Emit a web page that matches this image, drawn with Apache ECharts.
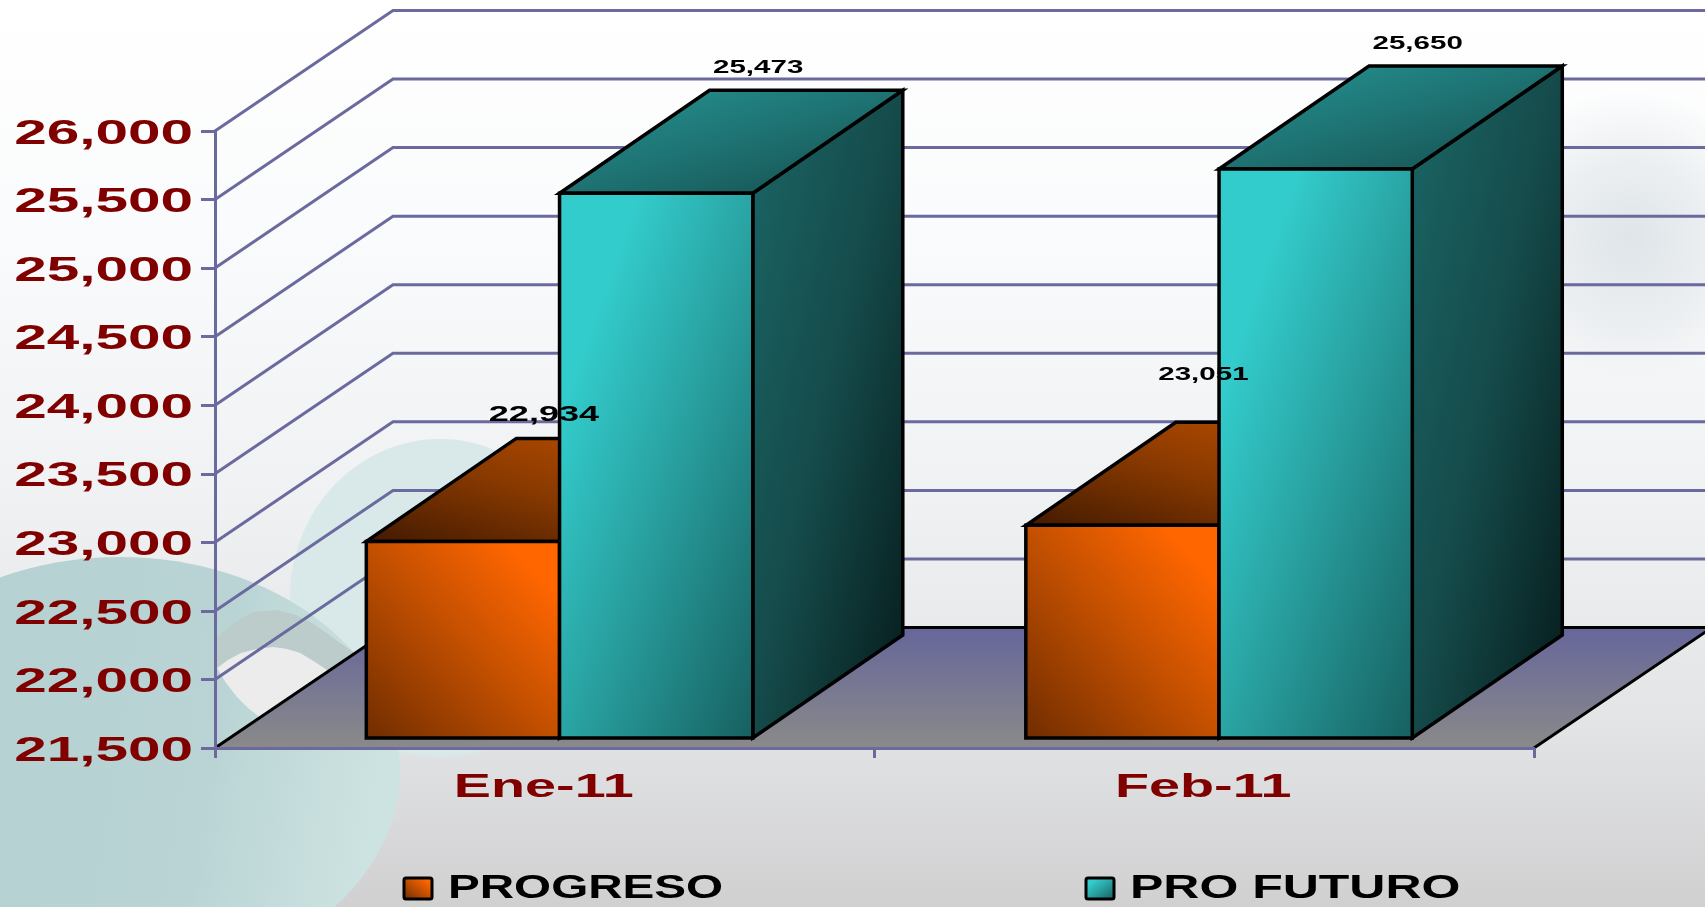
<!DOCTYPE html>
<html>
<head>
<meta charset="utf-8">
<title>Progreso / Pro Futuro</title>
<script src="https://cdn.jsdelivr.net/npm/echarts@6/dist/echarts.min.js"></script>
<style>
  html, body { margin: 0; padding: 0; width: 100%; height: 100%; overflow: hidden; background: #fff; }
  #chart { width: 1705px; height: 907px; }
</style>
</head>
<body>
<div id="chart"></div>
<script>
const categories = ['Ene-11', 'Feb-11'];
const seriesNames = ['PROGRESO', 'PRO FUTURO'];
const progreso = [22934, 23051];
const proFuturo = [25473, 25650];
const yTicks = [26000, 25500, 25000, 24500, 24000, 23500, 23000, 22500, 22000, 21500];

const Y_MIN = 21500;
const Y_MAX = 26000;

const FONT = '"Liberation Sans", Arial, sans-serif';
const AXIS_COLOR = '#6a6a9e';
const LABEL_COLOR = '#800000';

// depth of the floor / back wall, and where the bars sit in it
const WALL_DX = 178;
const WALL_DY = 120.5;
const BAR_FRONT_DX = 14.8;
const BAR_FRONT_DY = 10;
const BAR_DX = 150;
const BAR_DY = 103;
const BAR_WIDTH = 0.293;

// the value labels of the original are not placed evenly
const labelShiftX = [81, 102];
const labelRise = [[126, 150], [125, 125]];
const labelSize = [[22, 18], [18, 18]];

const chart = echarts.init(document.getElementById('chart'));

// gradient with its colour bands parallel to the box diagonal, like the original bars
function diagFill(x, y, w, h, fromRight, stops) {
  const t = 2 * w * h / (w * w + h * h);
  const x0 = fromRight ? x + w : x;
  const x1 = fromRight ? x0 - h * t : x0 + h * t;
  return new echarts.graphic.LinearGradient(x0, y, x1, y + w * t, stops, true);
}

const orangeFront = [[0, '#ff6600'], [0.14, '#ff6600'], [0.5, '#c45000'], [1, '#702d00']];
const orangeTop = [[0, '#c05000'], [0.5, '#8a3a00'], [1, '#421a00']];
const tealFront = [[0, '#33cccc'], [0.2, '#33cccc'], [0.5, '#2aa5a5'], [1, '#176060']];
const tealTop = [[0, '#269595'], [0.5, '#1e7272'], [1, '#164b4b']];
const tealSide = [[0, '#1b6666'], [0.5, '#154a4a'], [1, '#061a1a']];

function stretchedText(x, y, text, size, color, align, scale) {
  return {
    type: 'text',
    x: x,
    y: y,
    scaleX: scale,
    style: {
      text: text,
      fontFamily: FONT,
      fontWeight: 'bold',
      fontSize: size,
      fill: color,
      align: align,
      verticalAlign: 'middle'
    }
  };
}

function poly(points, fill) {
  return {
    type: 'polygon',
    shape: { points: points },
    style: { fill: fill, stroke: '#000', lineWidth: 3.5, lineJoin: 'miter' }
  };
}

function renderWall(params, api) {
  const v = api.value(1);
  const p = api.coord([0, v]);
  const sys = params.coordSys;
  if (v === Y_MIN) {
    const left = sys.x, right = sys.x + sys.width;
    const backY = p[1] - WALL_DY;
    return {
      type: 'group',
      children: [
        {
          type: 'polygon',
          shape: { points: [[left, p[1]], [left + WALL_DX, backY], [right + WALL_DX, backY], [right, p[1]]] },
          style: {
            fill: new echarts.graphic.LinearGradient(0, 0, 0, 1, [
              { offset: 0, color: '#66669b' },
              { offset: 1, color: '#8a8a8a' }
            ])
          }
        },
        {
          type: 'polyline',
          shape: { points: [[left, p[1]], [left + WALL_DX, backY], [right + WALL_DX, backY], [right, p[1]]] },
          style: { fill: 'none', stroke: '#000', lineWidth: 3 }
        }
      ]
    };
  }
  return {
    type: 'polyline',
    shape: { points: [[sys.x, p[1]], [sys.x + WALL_DX, p[1] - WALL_DY], [sys.x + sys.width + WALL_DX, p[1] - WALL_DY]] },
    style: { fill: 'none', stroke: AXIS_COLOR, lineWidth: 3 }
  };
}

function makeBarRender(k) {
  return function (params, api) {
    const i = api.value(0);
    const base = api.coord([i, Y_MIN]);
    const top = api.coord([i, api.value(1)]);
    const w = api.size([1, 0])[0] * BAR_WIDTH;
    const x0 = base[0] + BAR_FRONT_DX + (k - 1) * w;
    const x1 = x0 + w;
    const y0 = top[1] - BAR_FRONT_DY;
    const y1 = base[1] - BAR_FRONT_DY;
    const h = y1 - y0;
    const frontFill = k === 0
      ? diagFill(x0, y0, w, h, true, orangeFront.map(s => ({ offset: s[0], color: s[1] })))
      : diagFill(x0, y0, w, h, false, tealFront.map(s => ({ offset: s[0], color: s[1] })));
    const topFill = k === 0
      ? diagFill(x0, y0 - BAR_DY, w + BAR_DX, BAR_DY, true, orangeTop.map(s => ({ offset: s[0], color: s[1] })))
      : diagFill(x0, y0 - BAR_DY, w + BAR_DX, BAR_DY, false, tealTop.map(s => ({ offset: s[0], color: s[1] })));
    const sideFill = diagFill(x1, y0 - BAR_DY, BAR_DX, h + BAR_DY, false, tealSide.map(s => ({ offset: s[0], color: s[1] })));
    return {
      type: 'group',
      children: [
        poly([[x1, y0], [x1 + BAR_DX, y0 - BAR_DY], [x1 + BAR_DX, y1 - BAR_DY], [x1, y1]], sideFill),
        poly([[x0, y0], [x0 + BAR_DX, y0 - BAR_DY], [x1 + BAR_DX, y0 - BAR_DY], [x1, y0]], topFill),
        poly([[x0, y0], [x1, y0], [x1, y1], [x0, y1]], frontFill)
      ]
    };
  };
}

function makeValueLabelRender(k) {
  return function (params, api) {
    const i = api.value(0);
    const v = api.value(1);
    const base = api.coord([i, Y_MIN]);
    const top = api.coord([i, v]);
    const w = api.size([1, 0])[0] * BAR_WIDTH;
    const cx = base[0] + BAR_FRONT_DX + (k - 0.5) * w + labelShiftX[k];
    const cy = top[1] - BAR_FRONT_DY - labelRise[k][i];
    return stretchedText(cx, cy, v.toLocaleString('en-US'), labelSize[k][i], '#000', 'center', 1.64);
  };
}

function renderYLabel(params, api) {
  const v = api.value(1);
  const p = api.coord([0, v]);
  return stretchedText(params.coordSys.x - 22, p[1] + 3, v.toLocaleString('en-US'), 35, LABEL_COLOR, 'right', 1.67);
}

function renderXLabel(params, api) {
  const p = api.coord([api.value(0), Y_MIN]);
  return stretchedText(p[0] - 1, p[1] + 40, categories[api.value(0)], 34, LABEL_COLOR, 'center', 1.64);
}

function swatch(x, stops, fromRight) {
  return {
    type: 'rect',
    z: 10,
    shape: { x: x, y: 878, width: 28, height: 21, r: 2 },
    style: {
      fill: diagFill(x, 878, 28, 21, fromRight, stops.map(s => ({ offset: s[0], color: s[1] }))),
      stroke: '#000',
      lineWidth: 3
    }
  };
}

function legendText(x, text, scale) {
  const el = stretchedText(x, 889, text, 34, '#000', 'left', scale);
  el.z = 10;
  return el;
}

const background = [
  {
    type: 'rect', z: -10,
    shape: { x: 0, y: 0, width: 1705, height: 907 },
    style: {
      fill: new echarts.graphic.LinearGradient(0, 0, 0, 1, [
        { offset: 0, color: '#ffffff' },
        { offset: 0.25, color: '#fafbfc' },
        { offset: 0.55, color: '#f0f1f3' },
        { offset: 0.8, color: '#e3e4e6' },
        { offset: 1, color: '#d0d0d1' }
      ])
    }
  },
  {
    type: 'ellipse', z: -9,
    shape: { cx: 1630, cy: 235, rx: 170, ry: 145 },
    style: {
      fill: new echarts.graphic.RadialGradient(0.5, 0.5, 0.5, [
        { offset: 0, color: 'rgba(205,214,220,0.6)' },
        { offset: 0.5, color: 'rgba(205,214,220,0.35)' },
        { offset: 1, color: 'rgba(205,214,220,0)' }
      ])
    }
  },
  {
    type: 'ellipse', z: -8,
    shape: { cx: 440, cy: 598, rx: 150, ry: 159 },
    style: { fill: '#d9e9e9' }
  },
  {
    type: 'ellipse', z: -7,
    shape: { cx: 120, cy: 770, rx: 280, ry: 213 },
    style: {
      fill: new echarts.graphic.LinearGradient(0, 0, 1, 0.2, [
        { offset: 0, color: '#b2cfd0' },
        { offset: 0.7, color: '#bad4d5' },
        { offset: 1, color: '#cde3e1' }
      ])
    }
  },
  {
    type: 'polygon', z: -6,
    shape: { points: [[217, 637], [235, 622], [253, 612], [277, 610], [296, 615], [312, 623], [328, 634], [340, 643], [358, 655], [330, 672], [315, 662], [300, 653], [287, 649], [273, 647], [257, 649], [241, 653], [228, 660], [217, 668]] },
    style: { fill: '#bccccb' }
  },
  {
    type: 'polygon', z: -6,
    shape: { points: [[217, 668], [228, 660], [241, 653], [257, 649], [273, 647], [287, 649], [300, 653], [315, 662], [330, 672], [262, 719], [248, 708], [237, 697], [226, 683]] },
    style: { fill: '#ececec' }
  }
];

const dataOf = values => values.map((v, i) => [i, v]);

const option = {
  animation: false,
  tooltip: { show: false },
  legend: { show: false },
  graphic: {
    elements: background.concat([
      swatch(404, orangeFront, true),
      legendText(448, seriesNames[0], 1.40),
      swatch(1086, tealFront, false),
      legendText(1130, seriesNames[1], 1.47)
    ])
  },
  grid: { left: 215, top: 131, width: 1319, height: 617 },
  xAxis: {
    type: 'category',
    data: categories,
    z: 5,
    axisLine: { lineStyle: { color: AXIS_COLOR, width: 3 } },
    axisTick: { show: true, length: 10, lineStyle: { color: AXIS_COLOR, width: 3 } },
    axisLabel: { show: false },
    splitLine: { show: false }
  },
  yAxis: {
    type: 'value',
    min: Y_MIN,
    max: Y_MAX,
    interval: 500,
    z: 5,
    axisLine: { show: true, lineStyle: { color: AXIS_COLOR, width: 3 } },
    axisTick: { show: true, length: 14, lineStyle: { color: AXIS_COLOR, width: 3 } },
    axisLabel: { show: false },
    splitLine: { show: false }
  },
  series: [
    { type: 'custom', z: 1, silent: true, renderItem: renderWall, data: yTicks.map(v => [0, v]) },
    { type: 'custom', name: seriesNames[0], z: 2, silent: true, renderItem: makeBarRender(0), data: dataOf(progreso) },
    { type: 'custom', name: seriesNames[1], z: 3, silent: true, renderItem: makeBarRender(1), data: dataOf(proFuturo) },
    { type: 'custom', z: 6, silent: true, renderItem: makeValueLabelRender(0), data: dataOf(progreso) },
    { type: 'custom', z: 6, silent: true, renderItem: makeValueLabelRender(1), data: dataOf(proFuturo) },
    { type: 'custom', z: 6, silent: true, renderItem: renderYLabel, data: yTicks.map(v => [0, v]) },
    { type: 'custom', z: 6, silent: true, renderItem: renderXLabel, data: categories.map((c, i) => [i, Y_MIN]) }
  ]
};

chart.setOption(option);
window.addEventListener('resize', () => chart.resize());
</script>
</body>
</html>
